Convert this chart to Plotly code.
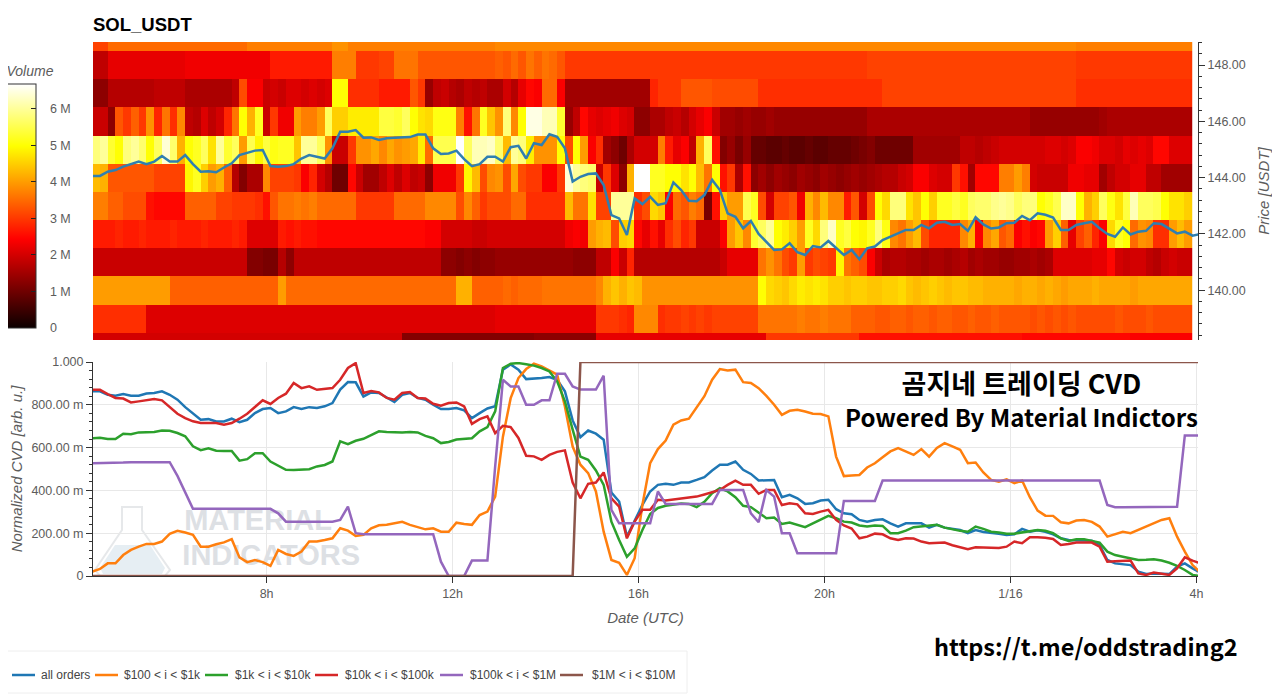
import pandas as pd
import plotly.graph_objects as go

# Volume per price level, in millions, one value per 10 min column
vol_149 = [3.1,3.1,3.5,3.5,3.5,3.5,3.5,3.5,3.5,3.5,3.5,3.5,3.5,3.5,3.5,3.5,3.5,3.5,3.5,3.5,
 3.7,3.7,3.7,3.7,3.7,3.7,3.7,3.7,3.7,3.7,3.7,3.9,3.9,3.7,3.7,3.7,3.7,3.7,3.7,3.7,
 3.7,3.7,3.7,3.7,3.7,3.7,3.7,3.7,3.7,3.7,3.7,3.7,3.8,3.8,3.8,3.8,3.8,3.8,3.8,3.8,
 3.8,3.8,3.8,3.8,3.8,3.8,3.8,3.8,3.8,3.8,3.8,3.8,3.8,3.8,3.8,3.8,3.8,3.8,3.8,3.8,
 3.8,3.8,3.8,3.8,3.8,3.8,3.8,3.8,3.8,3.8,3.8,3.8,3.8,3.8,3.8,3.8,3.8,3.8,3.8,3.8,
 3.8,3.8,3.8,3.8,3.8,3.8,3.8,3.8,3.8,3.8,3.8,3.8,3.8,3.8,3.8,3.8,3.8,3.8,3.8,3.8,
 3.8,3.8,3.8,3.8,3.8,3.8,3.8,3.7,3.7,3.7,3.7,3.7,3.7,3.7,3.7,3.7,3.7,3.7,3.7,3.7,
 3.7,3.7]
vol_148 = [1.8,1.8,2.2,2.2,2.2,2.2,2.2,2.2,2.2,2.2,2.2,2.2,2.3,2.3,2.3,2.3,2.3,2.3,2.3,2.3,
 2.3,2.3,2.3,2.7,2.7,2.7,2.7,2.7,2.7,2.7,2.7,3.7,3.7,3.7,3.0,3.0,3.0,3.1,3.1,3.6,
 3.6,3.6,3.3,3.3,3.3,3.3,3.3,3.3,3.3,3.3,3.3,3.3,3.4,3.3,3.5,3.3,3.6,3.4,3.6,3.5,
 3.3,3.0,3.0,3.0,3.0,3.0,3.0,3.0,3.0,3.0,3.0,3.0,3.0,3.0,3.0,3.0,3.0,3.0,3.0,3.0,
 3.0,3.0,3.0,3.0,3.0,3.0,3.0,3.0,3.0,3.0,3.0,3.0,3.0,3.0,3.0,3.0,3.0,3.0,3.0,3.0,
 3.1,3.1,3.1,3.1,3.1,3.1,3.1,3.1,3.1,3.1,3.1,3.1,3.1,3.1,3.1,3.1,3.1,3.1,3.1,3.1,
 3.1,3.1,3.1,3.1,3.1,3.1,3.1,3.0,3.0,3.0,3.0,3.0,3.0,3.0,3.0,3.0,3.0,3.0,3.0,3.0,
 3.0,3.0]
vol_147 = [1.3,1.3,1.7,1.7,1.7,1.7,1.7,1.7,1.8,1.8,1.8,1.8,1.6,1.6,1.6,1.6,1.6,1.6,1.8,3.2,
 2.4,2.4,1.9,2.0,1.9,2.1,2.1,2.0,2.1,2.0,2.1,5.0,5.0,2.9,2.9,2.9,2.9,2.7,2.7,2.7,
 2.7,3.3,3.0,1.4,1.8,1.9,1.7,1.6,1.8,1.7,1.8,1.6,1.6,2.0,1.7,2.2,2.5,2.4,3.5,3.5,
 2.4,1.5,1.5,1.5,1.5,1.5,1.5,1.5,1.5,1.5,1.5,1.5,2.8,3.0,3.0,3.0,3.3,3.3,3.3,3.3,
 3.2,3.2,3.2,3.2,3.2,3.2,2.9,2.9,2.9,2.9,2.9,2.9,2.9,2.9,2.9,2.9,2.9,2.9,2.9,2.9,
 2.9,2.9,3.1,3.1,3.1,3.1,3.1,3.1,3.1,3.1,3.1,3.1,3.1,3.1,3.1,3.1,3.1,3.1,3.1,3.1,
 3.1,3.1,3.1,3.1,3.1,3.1,3.1,2.9,2.9,2.9,2.9,2.9,2.9,2.9,2.9,2.9,2.9,2.9,2.9,2.9,
 2.9,2.9]
vol_146 = [1.9,1.9,1.3,3.3,3.0,3.4,3.0,3.9,2.8,3.6,2.9,3.8,1.8,1.7,2.1,1.8,2.0,2.8,3.6,5.0,
 4.2,5.2,1.9,3.0,2.3,2.3,4.0,3.7,3.7,4.0,5.6,4.5,4.5,4.8,4.8,4.8,4.8,5.4,5.4,5.3,
 5.6,5.0,4.7,4.6,5.1,5.1,5.1,3.7,2.6,3.6,5.2,4.4,3.9,5.8,3.8,5.0,6.5,6.5,6.2,6.2,
 5.3,1.4,1.8,2.5,2.2,2.1,2.2,2.3,2.1,2.0,1.3,1.3,1.6,1.6,1.8,1.9,1.7,2.0,2.2,2.4,
 1.9,1.5,1.5,1.4,1.5,1.4,1.4,1.5,1.4,1.4,1.4,1.4,1.4,1.4,1.4,1.4,1.4,1.4,1.4,1.4,
 1.6,1.6,1.6,1.6,1.6,1.6,1.6,1.6,1.6,1.6,1.6,1.6,1.6,1.6,1.6,1.6,1.6,1.6,1.6,1.6,
 1.6,1.4,1.4,1.4,1.4,1.4,1.4,1.4,1.4,1.4,1.5,1.6,1.6,1.6,1.6,1.6,1.6,1.6,1.6,1.6,
 1.6,1.6]
vol_145 = [5.8,6.0,5.3,5.0,5.8,6.0,5.7,5.0,5.6,6.4,5.7,4.2,5.0,5.2,5.6,4.7,6.0,5.3,5.6,4.0,
 5.5,4.9,5.4,5.1,5.2,5.2,4.4,6.0,6.0,5.6,3.9,1.9,1.9,3.0,3.9,3.9,4.1,3.8,4.1,3.9,
 4.0,4.1,4.8,3.5,5.5,5.5,5.5,6.7,5.6,6.2,6.2,6.3,5.7,4.3,6.0,5.8,4.8,3.9,3.9,3.9,
 5.0,3.2,5.0,4.0,2.4,2.9,1.5,1.3,1.0,1.6,2.0,2.0,2.0,3.7,2.7,2.2,2.4,1.8,4.2,5.6,
 2.6,1.2,1.4,1.1,1.4,0.9,0.9,0.8,0.8,0.9,0.8,0.8,0.9,0.8,0.8,0.9,0.9,0.9,1.0,1.1,
 1.2,1.0,1.0,1.0,1.0,1.0,1.5,1.5,1.5,1.5,1.5,1.5,1.8,1.8,1.7,1.8,1.9,2.0,2.0,2.0,
 2.0,2.0,2.0,2.1,2.1,2.0,2.1,2.4,2.4,2.3,2.1,2.1,2.0,2.2,2.1,2.2,2.1,2.5,2.5,2.1,
 2.1,2.1]
vol_144 = [4.3,4.2,3.3,3.3,3.3,3.3,3.3,3.3,3.1,3.1,3.1,3.1,4.9,5.2,4.5,4.0,4.2,3.4,1.7,1.2,
 1.6,1.6,3.8,3.1,3.1,3.1,3.0,2.4,2.8,2.0,1.7,1.0,1.0,2.5,1.9,1.5,1.5,1.8,2.1,1.8,
 2.1,1.8,1.9,1.3,2.3,2.3,2.3,3.0,4.9,4.3,3.2,3.8,3.9,3.2,4.1,3.2,3.0,3.0,2.4,2.4,
 3.0,6.4,6.0,5.8,5.7,1.9,3.0,2.1,1.3,4.2,6.7,6.7,5.2,5.2,5.0,5.0,4.7,5.0,4.3,3.6,
 5.0,2.6,3.0,1.6,2.6,1.3,1.5,1.3,1.5,1.4,1.3,1.5,1.4,1.3,1.5,1.4,1.3,1.4,1.5,1.4,
 1.5,1.6,1.7,1.7,1.9,2.0,2.4,2.4,2.1,2.0,2.0,3.0,2.6,1.5,2.5,2.5,2.5,3.7,3.7,4.0,
 3.7,2.0,1.9,1.9,1.9,1.9,2.3,2.3,2.2,2.2,1.5,1.8,2.0,2.0,2.2,2.2,1.8,1.8,1.5,1.5,
 1.5,1.5]
vol_143 = [3.7,3.7,3.4,3.4,3.2,3.2,3.2,2.6,2.5,2.5,2.5,2.5,3.4,3.4,3.4,3.4,3.1,3.1,3.0,3.0,
 3.0,2.9,2.6,3.3,3.6,3.6,3.7,3.6,3.7,3.5,3.5,3.5,3.5,3.5,3.0,3.0,3.0,3.0,3.0,3.5,
 3.5,3.5,3.5,3.8,3.8,3.8,3.8,3.2,3.8,3.4,3.0,3.2,3.2,3.2,3.5,3.5,2.9,2.9,2.9,2.9,
 2.9,4.3,3.6,3.6,4.7,3.1,3.1,6.0,6.0,6.0,2.9,3.2,4.6,4.4,2.4,3.5,3.3,3.7,3.5,1.1,
 2.6,4.5,4.0,4.0,5.5,5.2,3.2,2.0,3.1,3.1,3.3,2.3,4.2,3.8,4.3,3.8,3.8,2.7,3.3,2.0,
 3.2,5.0,4.6,5.8,5.8,4.7,4.4,5.0,4.5,5.2,5.2,5.4,5.2,5.6,5.7,5.7,5.9,6.0,5.9,5.6,
 5.8,5.8,5.0,5.2,5.5,6.3,6.3,5.0,4.2,4.5,5.6,5.1,4.7,5.4,6.2,5.6,5.6,5.5,5.0,4.7,
 4.7,4.5]
vol_142 = [2.7,2.7,2.7,2.8,2.7,2.7,2.8,2.7,2.7,2.7,2.8,2.7,2.7,2.7,2.8,2.7,2.7,2.7,2.8,2.7,
 2.1,2.1,2.1,2.1,2.7,2.6,2.7,2.6,2.6,2.5,2.5,2.5,2.5,2.5,2.5,2.5,2.5,2.5,2.5,2.5,
 2.5,2.5,2.5,2.4,2.4,2.0,2.0,2.0,2.0,1.9,1.9,2.0,2.0,2.0,2.0,2.0,2.0,2.0,2.0,2.0,
 2.0,2.3,2.4,2.3,4.0,4.2,4.3,3.2,4.5,4.6,2.5,2.2,2.6,2.2,2.9,3.2,2.8,3.0,1.9,1.9,
 1.9,2.4,4.0,4.4,3.8,5.3,5.6,6.0,5.0,4.8,4.5,4.0,5.2,4.6,5.8,6.3,5.2,5.4,5.0,4.9,
 5.2,5.8,5.1,3.8,3.6,4.0,4.3,3.2,2.8,2.8,2.8,2.8,3.8,4.2,2.4,3.8,4.1,3.3,3.5,2.4,
 2.6,2.4,2.5,4.0,4.5,3.4,2.2,3.1,3.4,2.8,2.4,4.6,5.2,5.0,3.5,3.9,3.8,2.9,2.9,4.0,
 4.3,4.0]
vol_141 = [1.9,1.9,1.9,1.9,1.9,1.9,1.9,1.9,1.9,1.9,1.9,1.9,1.9,1.9,1.9,1.9,1.9,1.9,1.9,1.9,
 1.2,1.2,1.1,1.1,1.7,1.3,1.8,1.8,1.8,1.8,1.8,1.8,1.8,1.8,1.8,1.8,1.8,1.8,1.8,1.8,
 1.8,1.8,1.8,1.8,1.8,1.3,1.3,1.2,1.3,1.2,1.3,1.3,1.4,1.4,1.4,1.4,1.4,1.4,1.4,1.4,
 1.4,1.4,1.3,1.3,1.3,1.8,1.8,2.4,1.9,2.8,1.7,1.7,1.7,1.7,1.7,1.7,1.7,1.7,1.7,1.7,
 1.7,1.9,2.2,2.2,2.2,2.2,3.6,3.9,3.6,3.2,3.0,4.0,3.0,3.2,3.1,3.0,4.9,3.6,3.4,3.2,
 2.4,1.9,1.6,1.7,1.7,1.6,1.6,1.5,1.6,1.6,1.5,1.6,1.7,1.5,1.6,1.5,1.5,1.4,1.4,1.5,
 1.5,1.6,1.5,1.6,2.1,2.1,2.1,2.1,2.1,2.2,2.2,2.5,2.0,1.9,2.0,2.0,1.8,1.7,1.9,2.0,
 1.9,1.9]
vol_140 = [4.0,4.0,4.0,4.0,4.0,4.0,4.0,4.0,4.0,4.0,3.4,3.4,3.4,3.4,3.4,3.4,3.4,3.4,3.4,3.4,
 3.4,3.4,3.4,3.4,4.0,3.5,3.5,3.5,3.5,3.5,3.5,3.5,3.5,3.5,3.5,3.5,3.5,3.5,3.5,3.5,
 3.5,3.5,3.5,3.5,3.5,3.5,3.5,4.2,4.2,3.4,3.4,3.4,3.4,3.5,3.4,3.5,3.5,3.5,3.6,3.6,
 3.6,3.6,3.6,3.6,3.6,3.8,4.2,4.4,4.2,4.4,4.3,3.9,3.9,3.9,3.9,3.9,3.9,3.9,3.9,3.9,
 3.9,3.9,3.9,3.9,3.9,3.9,5.0,4.6,4.5,4.4,4.6,4.8,4.7,4.8,4.7,4.5,4.5,4.4,4.5,4.5,
 4.4,4.4,4.5,4.5,4.6,4.4,4.3,4.4,4.5,4.4,4.3,4.4,4.4,4.3,4.3,4.2,4.2,4.2,4.2,4.1,
 4.2,4.2,4.1,4.2,4.1,4.0,4.1,4.1,4.1,4.2,4.1,4.1,4.1,4.1,4.0,4.1,4.1,4.1,4.1,4.1,
 4.1,4.1]
vol_139 = [2.9,2.9,2.9,2.9,2.9,2.9,2.9,2.1,2.1,2.1,2.1,2.1,2.1,2.1,2.1,2.1,2.1,2.1,2.1,2.1,
 2.1,2.1,2.1,2.1,2.1,2.1,2.1,2.1,2.1,2.1,2.1,2.1,2.1,2.1,2.1,2.1,2.1,2.1,2.1,2.1,
 2.1,2.1,2.1,2.1,2.1,2.1,2.1,2.1,2.1,2.1,2.1,2.1,2.2,2.2,2.2,2.2,2.2,2.2,2.2,2.2,
 2.2,2.2,2.2,2.2,2.2,3.0,3.0,3.0,2.9,2.8,3.8,3.8,3.8,2.9,3.0,3.0,3.1,3.0,3.1,3.0,
 3.1,3.1,3.1,3.1,3.1,3.1,3.6,3.6,3.6,3.6,3.6,3.7,3.6,3.6,3.7,3.6,3.6,3.6,3.4,3.4,
 3.4,3.3,3.3,3.4,3.4,3.3,3.4,3.4,3.3,3.4,3.4,3.3,3.3,3.4,3.3,3.3,3.4,3.3,3.3,3.3,
 3.3,3.2,3.3,3.2,3.3,3.2,3.3,3.2,3.2,3.2,3.2,3.2,3.3,3.2,3.2,3.2,3.3,3.2,3.2,3.2,
 3.2,3.2]
vol_138 = [2.0,2.0,2.0,2.0,2.0,2.0,2.0,2.0,2.0,2.0,2.0,2.0,2.0,2.0,2.0,2.0,2.0,2.0,2.0,2.0,
 2.0,2.0,2.0,2.0,2.0,2.0,2.0,2.0,2.0,2.0,2.0,2.0,2.0,2.0,2.0,2.0,2.0,2.0,2.0,2.0,
 1.2,1.2,1.2,1.2,1.2,1.2,1.2,1.2,1.2,1.2,1.2,1.2,1.2,1.2,1.2,1.2,1.2,1.3,1.3,1.3,
 1.3,1.3,1.3,1.3,1.3,2.2,2.2,2.2,2.2,2.2,2.2,2.2,2.2,2.2,2.2,2.2,2.2,2.2,2.2,2.2,
 2.2,2.2,2.2,2.2,2.2,2.2,2.2,3.0,3.0,3.0,3.0,3.0,3.0,3.0,3.0,3.0,3.0,3.0,3.0,2.6,
 2.6,2.6,2.6,2.6,2.6,2.6,2.6,2.6,2.6,2.6,2.6,2.6,2.6,2.6,2.6,2.6,2.6,2.6,2.6,2.6,
 2.5,2.5,2.5,2.5,2.5,2.5,2.5,2.5,2.5,2.5,2.5,2.5,2.5,2.5,2.4,2.4,2.4,2.4,2.4,2.4,
 2.4,2.4]

price_levels = [138,139,140,141,142,143,144,145,146,147,148,149]

price = [144.06,144.06,144.21,144.27,144.39,144.47,144.57,144.48,144.57,144.77,
 144.57,144.57,144.80,144.48,144.21,144.23,144.19,144.36,144.51,144.80,
 144.89,144.96,144.98,144.41,144.39,144.41,144.48,144.68,144.80,144.74,
 144.68,145.04,145.63,145.63,145.69,145.42,145.43,145.34,145.40,145.42,
 145.43,145.44,145.53,145.53,145.04,144.84,144.86,144.96,144.66,144.41,
 144.48,144.74,144.74,144.57,145.08,145.13,144.68,145.22,145.16,145.54,
 145.45,145.04,143.86,144.03,144.13,144.15,143.74,142.67,142.55,141.96,
 143.26,143.06,143.32,143.03,143.09,143.83,143.56,143.18,143.16,143.38,
 143.92,143.56,142.73,142.61,142.20,142.46,142.00,141.71,141.43,141.45,
 141.67,141.35,141.25,141.57,141.52,141.75,141.49,141.25,141.43,141.10,
 141.49,141.55,141.78,141.90,142.02,142.14,142.14,142.32,142.20,142.40,
 142.43,142.32,142.35,142.11,142.59,142.34,142.19,142.23,142.38,142.40,
 142.64,142.49,142.73,142.68,142.58,142.14,142.14,142.32,142.38,142.43,
 142.20,142.00,141.90,142.23,141.98,142.08,142.11,142.38,142.35,142.20,
 142.02,142.08,141.94,142.00]

# Normalized CVD per order size
cvd_all = [.863,.863,.847,.842,.850,.842,.842,.853,.855,.863,
 .847,.824,.789,.758,.730,.733,.722,.722,.735,.719,
 .730,.761,.780,.785,.761,.769,.789,.780,.789,.785,
 .793,.808,.871,.906,.905,.839,.858,.855,.832,.813,
 .847,.855,.832,.824,.800,.780,.780,.785,.774,.738,
 .761,.783,.793,.964,.988,.964,.920,.922,.925,.930,
 .917,.863,.727,.649,.680,.665,.637,.390,.348,.184,
 .262,.332,.395,.426,.431,.426,.437,.437,.449,.462,
 .493,.520,.520,.535,.496,.477,.446,.449,.449,.368,
 .379,.363,.337,.340,.353,.356,.312,.293,.289,.262,
 .254,.262,.265,.246,.231,.246,.246,.246,.226,.239,
 .226,.222,.215,.200,.215,.206,.200,.197,.192,.195,
 .220,.207,.214,.207,.195,.176,.168,.168,.168,.165,
 .145,.075,.059,.056,.051,.020,.009,.012,.009,.009,
 .044,.059,.036,.016]
cvd_100_1k = [.020,.033,.059,.059,.098,.122,.137,.150,.150,.161,
 .197,.211,.203,.192,.137,.137,.148,.157,.172,.087,
 .065,.075,.065,.047,.122,.103,.094,.114,.161,.161,
 .168,.176,.223,.212,.187,.192,.223,.237,.239,.246,
 .253,.239,.228,.218,.223,.207,.207,.249,.243,.239,
 .285,.301,.371,.651,.831,.925,.967,.992,.980,.961,
 .941,.792,.605,.520,.481,.395,.207,.075,.062,.005,
 .083,.332,.527,.593,.633,.707,.727,.735,.790,.840,
 .917,.967,.960,.964,.906,.902,.878,.842,.800,.753,
 .772,.777,.769,.758,.757,.746,.558,.467,.470,.472,
 .507,.527,.555,.582,.598,.582,.566,.593,.558,.598,
 .621,.606,.590,.527,.530,.484,.449,.441,.452,.434,
 .446,.368,.306,.282,.281,.251,.246,.259,.262,.253,
 .231,.184,.197,.207,.200,.215,.231,.246,.262,.270,
 .184,.114,.051,.016]
cvd_1k_10k = [.644,.646,.640,.640,.665,.662,.671,.673,.673,.680,
 .679,.668,.653,.606,.588,.597,.585,.584,.584,.539,
 .546,.574,.574,.535,.516,.496,.495,.496,.499,.512,
 .519,.535,.629,.616,.632,.641,.657,.676,.673,.671,
 .671,.673,.671,.655,.644,.621,.626,.638,.642,.644,
 .676,.696,.769,.972,.992,.995,.989,.983,.972,.956,
 .910,.816,.684,.558,.543,.493,.426,.254,.168,.090,
 .129,.215,.290,.318,.328,.334,.339,.337,.322,.347,
 .387,.410,.395,.368,.328,.322,.294,.270,.273,.243,
 .250,.240,.228,.246,.265,.281,.270,.254,.250,.236,
 .231,.236,.234,.200,.200,.212,.228,.231,.234,.239,
 .226,.218,.211,.207,.231,.220,.207,.203,.197,.198,
 .203,.207,.215,.211,.200,.176,.164,.172,.172,.164,
 .156,.114,.098,.090,.081,.075,.076,.078,.072,.062,
 .047,.028,.005,.000]
cvd_10k_100k = [.870,.870,.850,.832,.829,.811,.816,.821,.827,.821,
 .790,.758,.738,.723,.715,.715,.715,.707,.715,.735,
 .758,.790,.821,.804,.832,.852,.902,.878,.886,.870,
 .874,.878,.917,.972,.995,.855,.864,.858,.832,.824,
 .855,.860,.832,.829,.805,.796,.808,.811,.792,.711,
 .733,.746,.668,.702,.696,.645,.562,.559,.543,.566,
 .580,.587,.437,.363,.431,.437,.484,.363,.324,.176,
 .254,.309,.309,.356,.353,.356,.362,.367,.371,.381,
 .393,.402,.426,.446,.426,.426,.384,.402,.402,.332,
 .340,.335,.293,.290,.301,.309,.262,.236,.222,.176,
 .184,.198,.195,.176,.168,.176,.175,.161,.153,.156,
 .156,.144,.134,.125,.134,.134,.131,.131,.137,.161,
 .153,.181,.181,.179,.173,.145,.150,.156,.156,.156,
 .137,.067,.069,.072,.072,.012,.005,.016,.009,.005,
 .036,.087,.072,.059]
cvd_100k_1m = [.527,.527,.527,.529,.530,.532,.532,.532,.532,.532,
 .532,.468,.387,.314,.314,.314,.314,.314,.314,.314,
 .314,.314,.314,.314,.293,.254,.254,.254,.254,.254,
 .254,.254,.262,.324,.200,.195,.195,.195,.195,.195,
 .195,.195,.195,.195,.195,.067,.000,.000,.000,.072,
 .072,.072,.512,.917,.886,.886,.800,.800,.821,.821,
 .945,.945,.886,.871,.871,.871,.936,.309,.246,.246,
 .246,.246,.246,.395,.337,.337,.337,.337,.337,.337,
 .337,.402,.402,.402,.402,.293,.251,.402,.371,.200,
 .200,.106,.106,.106,.106,.106,.106,.351,.351,.351,
 .351,.351,.446,.446,.446,.446,.446,.446,.446,.446,
 .446,.446,.446,.446,.446,.446,.446,.446,.446,.446,
 .446,.446,.446,.446,.446,.446,.446,.446,.446,.446,
 .446,.332,.321,.321,.321,.321,.321,.321,.321,.321,
 .324,.657,.657,.657]
cvd_1m_10m = [0,0,0,0,0,0,0,0,0,0,0,0,0,0,0,0,0,0,0,0,
 0,0,0,0,0,0,0,0,0,0,0,0,0,0,0,0,0,0,0,0,
 0,0,0,0,0,0,0,0,0,0,0,0,0,0,0,0,0,0,0,0,
 0,0,0,1,1,1,1,1,1,1,1,1,1,1,1,1,1,1,1,1,
 1,1,1,1,1,1,1,1,1,1,1,1,1,1,1,1,1,1,1,1,
 1,1,1,1,1,1,1,1,1,1,1,1,1,1,1,1,1,1,1,1,
 1,1,1,1,1,1,1,1,1,1,1,1,1,1,1,1,1,1,1,1,
 1,1,1,1]

series_names = ['all orders', '$100 < i < $1k', '$1k < i < $10k', '$10k < i < $100k', '$100k < i < $1M', '$1M < i < $10M']
series_colors = ['#1f77b4', '#ff7f0e', '#2ca02c', '#d62728', '#9467bd', '#8c564b']
series_values = [cvd_all, cvd_100_1k, cvd_1k_10k, cvd_10k_100k, cvd_100k_1m, cvd_1m_10m]

date_ticks = ['2024-01-15 08:00', '2024-01-15 12:00', '2024-01-15 16:00', '2024-01-15 20:00', '2024-01-16 00:00', '2024-01-16 04:00']
date_labels = ['8h', '12h', '16h', '20h', '1/16', '4h']
cvd_ticks = [0, 0.2, 0.4, 0.6, 0.8, 1]
cvd_labels = ['0', '200.00 m', '400.00 m', '600.00 m', '800.00 m', '1.000']
volume_ticks = [0, 1, 2, 3, 4, 5, 6]
volume_labels = ['0', '1 M', '2 M', '3 M', '4 M', '5 M', '6 M']

heat_colors = [[0, '#0b0000'], [0.365, '#ff0000'], [0.746, '#ffff00'], [1, '#ffffff']]

GRAY = '#5c5c5c'
FONT = 'Liberation Sans'
X_RANGE = ['2024-01-15 04:16', '2024-01-16 04:02']
# where each legend entry starts on the page (line start, line end, text start)
legend_slots = [(12, 35, 41), (95, 118, 124), (205, 228, 235), (315, 338, 345), (440, 463, 470), (560, 583, 592)]


# pixel position on the page to paper coordinates
def pos(px, py):
    return (px - 93) / 1105, (576 - py) / 534


times = pd.date_range('2024-01-15 04:15', periods=144, freq='10min')
heat_times = pd.date_range('2024-01-15 04:20', periods=142, freq='10min')

fig = go.Figure()

# Watermark goes first so the lines are drawn over it
fig.add_trace(go.Scatter(x=['2024-01-15 07:49', '2024-01-15 08:06'], y=[0.248, 0.084], mode='text',
                         text=['MATERIAL', 'INDICATORS'], textposition='middle center',
                         textfont=dict(family=FONT, size=29, color='#dde0e4', weight='bold'),
                         showlegend=False, hoverinfo='skip', xaxis='x', yaxis='y'))

for name, color, values in zip(series_names, series_colors, series_values):
    fig.add_trace(go.Scatter(x=times, y=values, mode='lines', name=name, cliponaxis=False,
                             line=dict(color=color, width=2.5), xaxis='x', yaxis='y'))

# the colorbar length includes its title, and the nbsp push the labels away from the bar
fig.add_trace(go.Heatmap(x=heat_times, y=price_levels,
                         z=[vol_138, vol_139, vol_140, vol_141, vol_142, vol_143, vol_144, vol_145,
                            vol_146, vol_147, vol_148, vol_149],
                         zmin=0, zmax=6.68, colorscale=heat_colors, xaxis='x2', yaxis='y2', hoverinfo='skip',
                         colorbar=dict(x=pos(7, 0)[0], xanchor='left', xpad=0, y=pos(0, 328)[1], yanchor='bottom', ypad=0,
                                       len=265, lenmode='pixels', thickness=29, thicknessmode='pixels',
                                       outlinecolor='#333', outlinewidth=1, tickvals=volume_ticks,
                                       ticktext=['\u00a0\u00a0\u00a0' + t for t in volume_labels],
                                       ticks='inside', ticklen=5, tickcolor='#222',
                                       tickfont=dict(family=FONT, size=12.5, color=GRAY),
                                       title=dict(text='Volume', side='top',
                                                  font=dict(family=FONT, size=14, color=GRAY, style='italic')))))

fig.add_trace(go.Scatter(x=times, y=price, mode='lines', showlegend=False,
                         line=dict(color='#2f7fb0', width=2.5), xaxis='x2', yaxis='y2'))

# Flask of the watermark and the legend box
flask = 'M {} {} L {} {} L {} {} L {} {} L {} {} L {} {} L {} {} L {} {} Z'
flask_pts = [pos(122, 507), pos(142, 507), pos(142, 530), pos(170, 570), pos(165, 576), pos(100, 576), pos(95, 570), pos(122, 530)]
liquid_pts = [pos(115, 545), pos(150, 545), pos(165, 568), pos(162, 574), pos(103, 574), pos(100, 568)]
shapes = [
    dict(type='path', xref='paper', yref='paper', layer='below', line=dict(color='#e6e8ea', width=2),
         path=flask.format(*[v for p in flask_pts for v in p])),
    dict(type='path', xref='paper', yref='paper', layer='below', line=dict(width=0), fillcolor='#e6eef3',
         path='M {} {} L {} {} L {} {} L {} {} L {} {} L {} {} Z'.format(*[v for p in liquid_pts for v in p])),
    dict(type='rect', xref='paper', yref='paper', line=dict(color='#eeeeee', width=1),
         x0=pos(0, 651)[0], y0=pos(0, 651)[1], x1=pos(687, 693)[0], y1=pos(687, 693)[1]),
]

# The two caption lines are one text so that their line boxes do not collide
notes = [
    dict(text='<b><span style="font-size:27px">곰지네 트레이딩 CVD</span><br>'
              '<span style="font-size:24px">Powered By Material Indictors</span></b>', at=pos(1021, 398), size=25.4),
    dict(text='<b>https://t.me/oddstrading2</b>', at=pos(1086, 646), size=23.5),
]
annotations = [dict(text=n['text'], x=n['at'][0], y=n['at'][1], xref='paper', yref='paper', showarrow=False,
                    xanchor='center', yanchor='middle', font=dict(family='Noto Sans CJK KR', size=n['size'], color='black'))
               for n in notes]

# Legend row
for (line_start, line_end, text_start), name, color in zip(legend_slots, series_names, series_colors):
    shapes.append(dict(type='line', xref='paper', yref='paper', line=dict(color=color, width=2.5),
                       x0=pos(line_start, 675)[0], y0=pos(0, 675)[1], x1=pos(line_end, 675)[0], y1=pos(0, 675)[1]))
    annotations.append(dict(text=name, x=pos(text_start, 675)[0], y=pos(0, 675)[1], xref='paper', yref='paper', showarrow=False,
                            xanchor='left', yanchor='middle', xshift=-2, font=dict(family=FONT, size=12, color='#444')))

# The page body has an 8 px margin, so the figure is 8 px smaller and sits at (8, 8)
fig.update_layout(
    width=1272, height=686,
    margin=dict(l=85, r=82, t=34, b=118, autoexpand=False),
    paper_bgcolor='white', plot_bgcolor='white',
    font=dict(family=FONT, size=12.5, color=GRAY),
    title=dict(text='<b>SOL_USDT</b>', x=0, xref='paper', xanchor='left', y=1 - 17 / 686, yref='container', yanchor='middle',
               font=dict(family=FONT, size=18.5, color='black')),
    shapes=shapes,
    annotations=annotations,
    showlegend=False,
    xaxis=dict(domain=[0, 1], range=X_RANGE, type='date', anchor='y', tickvals=date_ticks, ticktext=date_labels,
               showgrid=True, gridcolor='#e8e8e8', gridwidth=1, showline=True, linecolor='#333', linewidth=1,
               ticks='outside', ticklen=6, tickcolor='#333', tickfont=dict(size=12.5, color=GRAY),
               title=dict(text='Date (UTC)', standoff=12, font=dict(size=15, color=GRAY, style='italic'))),
    yaxis=dict(domain=[0, 214 / 534], range=[0, 1], anchor='x', tickvals=cvd_ticks, ticktext=cvd_labels,
               showgrid=True, gridcolor='#e8e8e8', gridwidth=1, showline=True, linecolor='#333', linewidth=1, zeroline=False,
               ticks='outside', ticklen=6, tickcolor='#333', tickfont=dict(size=12.5, color=GRAY),
               minor=dict(dtick=0.04, ticks='outside', ticklen=3, tickcolor='#333', showgrid=False),
               title=dict(text='Normalized CVD [arb. u.]', standoff=10, font=dict(size=15, color=GRAY, style='italic'))),
    xaxis2=dict(domain=[0, 1], range=X_RANGE, type='date', anchor='y2', visible=False),
    yaxis2=dict(domain=[236 / 534, 1], range=[138.23, 148.82], anchor='x2', side='right', dtick=2, tickformat='.2f',
                showgrid=False, zeroline=False, showline=True, linecolor='#333', linewidth=1,
                ticks='outside', ticklen=6, tickcolor='#333', tickfont=dict(size=12.5, color=GRAY),
                minor=dict(dtick=0.4, ticks='outside', ticklen=3, tickcolor='#333', showgrid=False),
                title=dict(text='Price [USDT]', standoff=13, font=dict(size=15, color=GRAY, style='italic'))),
)

fig.write_html("out.html")
